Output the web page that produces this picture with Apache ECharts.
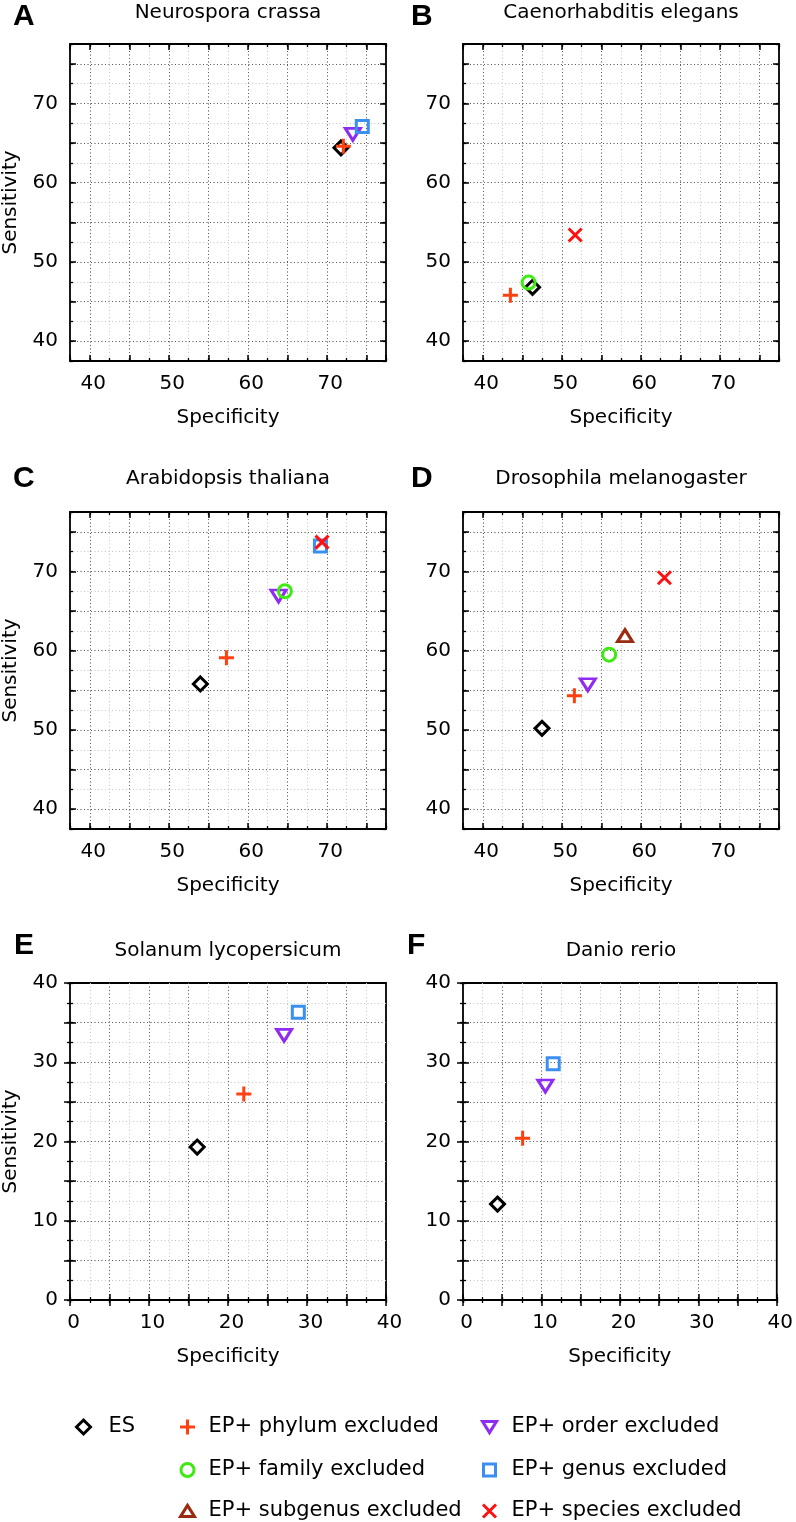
<!DOCTYPE html>
<html><head><meta charset="utf-8">
<script src="https://cdn.jsdelivr.net/npm/echarts@6/dist/echarts.min.js"></script>
<style>html,body{margin:0;padding:0;background:#fff}#main{width:796px;height:1522px}</style>
</head><body><div id="main"></div>
<script>
// ---------------- data ----------------
const panelTitles = ['Neurospora crassa', 'Caenorhabditis elegans', 'Arabidopsis thaliana',
  'Drosophila melanogaster', 'Solanum lycopersicum', 'Danio rerio'];
const panelLetters = ['A', 'B', 'C', 'D', 'E', 'F'];
const seriesNames = ['ES', 'EP+ phylum excluded', 'EP+ order excluded', 'EP+ family excluded',
  'EP+ genus excluded', 'EP+ subgenus excluded', 'EP+ species excluded'];
const axisMin = [37.5, 37.5, 37.5, 37.5, 0, 0];
const axisMax = [77.5, 77.5, 77.5, 77.5, 40, 40];
const xTitle = 'Specificity';
const yTitle = 'Sensitivity';
// [specificity, sensitivity] per series, same order as seriesNames (null = not shown)
const neurospora = [[71.8, 64.4], [72.1, 64.6], [73.3, 66.1], null, [74.5, 67.1], null, null];
const caenorhabditis = [[46.3, 46.8], [43.5, 45.8], null, [45.8, 47.4], null, null, [51.7, 53.4]];
const arabidopsis = [[54.0, 55.8], [57.3, 59.1], [63.9, 66.9], [64.7, 67.5], [69.2, 73.2], null, [69.4, 73.7]];
const drosophila = [[47.5, 50.2], [51.6, 54.3], [53.3, 55.7], [56.0, 59.5], null, [58.0, 61.9], [63.0, 69.2]];
const solanum = [[16.1, 19.3], [22.0, 26.0], [27.1, 33.4], null, [28.9, 36.3], null, null];
const danio = [[4.4, 12.1], [7.6, 20.4], [10.5, 27.0], null, [11.5, 29.8], null, null];
const panelData = [neurospora, caenorhabditis, arabidopsis, drosophila, solanum, danio];

// ---------------- styles / layout ----------------
const FONT = 'DejaVu Sans';
const seriesColors = ['#000000', '#ff4010', '#8f2cf2', '#3fea12', '#3b8ff0', '#9a2a12', '#ff1010'];
const seriesSymbols = [
  'diamond',
  'path://M0,-1 L0,1 M-1,0 L1,0',
  'path://M0,0 L20,0 L10,16 Z',
  'circle',
  'rect',
  'path://M10,0 L20,16 L0,16 Z',
  'path://M-1,-1 L1,1 M-1,1 L1,-1'
];
const seriesSizes = [14, 15, [15, 12], 13, 12, [15, 12], 13];
const legendSizes = [14, 15, 14, 13, 12, 14, 13];
const gridBoxes = [
  {left: 70, top: 44}, {left: 463, top: 44},
  {left: 70, top: 512}, {left: 463, top: 512},
  {left: 70, top: 983}, {left: 463, top: 983}
];
const GW = 316, GH = 317;
const letterPos = [[13, 2], [411, 2], [13, 464], [411, 464], [14, 931], [407, 931]];
const titleTop = [3, 3, 469, 469, 941, 941];
const legendPos = [[82, 1427], [186, 1427], [488, 1427], [186, 1470], [488, 1470], [186, 1511], [488, 1511]];
const legendTextGap = [25, 21, 22, 21, 22, 21, 22];

const grids = [], xAxes = [], yAxes = [], series = [], titles = [], legends = [];

function labFmt(v) { return Math.abs(v % 10) < 1e-9 ? String(v) : ''; }

panelData.forEach((pdata, gi) => {
  const g = gridBoxes[gi];
  grids.push({left: g.left, top: g.top, width: GW, height: GH, show: true,
    borderColor: '#000', borderWidth: 1.8, backgroundColor: '#fff', containLabel: false});
  const mn = axisMin[gi], mx = axisMax[gi];
  const isLeft = gi % 2 === 0;
  ['x', 'y'].forEach(dim => {
    const arr = dim === 'x' ? xAxes : yAxes;
    const posA = dim === 'x' ? 'bottom' : 'left';
    const posB = dim === 'x' ? 'top' : 'right';
    const major = {
      type: 'value', gridIndex: gi, min: mn, max: mx, splitNumber: 8, minInterval: 5, maxInterval: 5,
      position: posA, axisLine: {show: false},
      axisTick: {show: true, inside: true, length: 6, lineStyle: {color: '#000', width: 1.5}},
      axisLabel: {show: true, interval: 0, formatter: labFmt, color: '#000', fontSize: 20, fontFamily: FONT,
        margin: dim === 'x' ? 13 : 12, showMinLabel: true, showMaxLabel: true,
        padding: dim === 'x' ? [0, 0, 0, 7] : [4, 0, 0, 0]},
      splitLine: {show: true, showMinLine: false, showMaxLine: false,
        lineStyle: {color: '#5a5a5a', width: 1, type: [1, 2.5]}}
    };
    if (dim === 'x') {
      major.name = xTitle; major.nameLocation = 'middle'; major.nameGap = 47;
      major.nameTextStyle = {fontSize: 20, fontFamily: FONT, color: '#000'};
    } else if (isLeft) {
      major.name = yTitle; major.nameLocation = 'middle'; major.nameGap = 49; major.nameRotate = 90;
      major.nameTextStyle = {fontSize: 20, fontFamily: FONT, color: '#000'};
    }
    const minor = {
      type: 'value', gridIndex: gi, min: mn, max: mx, interval: 2.5, position: posA,
      axisLine: {show: false}, axisLabel: {show: false},
      axisTick: {show: true, inside: true, length: 3, lineStyle: {color: '#000', width: 1.3}},
      splitLine: {show: true, showMinLine: false, showMaxLine: false,
        lineStyle: {color: '#c4c4c4', width: 1, type: [1, 2.5]}}
    };
    const majorB = {
      type: 'value', gridIndex: gi, min: mn, max: mx, splitNumber: 8, minInterval: 5, maxInterval: 5,
      position: posB, axisLine: {show: false}, axisLabel: {show: false}, splitLine: {show: false},
      axisTick: {show: true, inside: true, length: 6, lineStyle: {color: '#000', width: 1.5}}
    };
    const minorB = {
      type: 'value', gridIndex: gi, min: mn, max: mx, interval: 2.5, position: posB,
      axisLine: {show: false}, axisLabel: {show: false}, splitLine: {show: false},
      axisTick: {show: true, inside: true, length: 3, lineStyle: {color: '#000', width: 1.3}}
    };
    arr.push(minor, major, minorB, majorB);
  });
  const axisIdx = gi * 4 + 1;
  pdata.forEach((pt, si) => {
    if (!pt) return;
    series.push({
      type: 'scatter', name: seriesNames[si], xAxisIndex: axisIdx, yAxisIndex: axisIdx,
      data: [pt], symbol: seriesSymbols[si], symbolSize: seriesSizes[si], z: 5 + si,
      itemStyle: {color: 'rgba(0,0,0,0)', borderColor: seriesColors[si], borderWidth: 3, opacity: 1},
      emphasis: {disabled: true}, silent: true, animation: false
    });
  });
  titles.push({text: panelTitles[gi], left: g.left + GW / 2, top: titleTop[gi], textAlign: 'center', padding: 0,
    textStyle: {fontSize: 20, fontWeight: 'normal', fontFamily: FONT, color: '#000'}});
  titles.push({text: panelLetters[gi], left: letterPos[gi][0], top: letterPos[gi][1], padding: 0,
    textStyle: {fontSize: 30, fontWeight: 'bold', fontFamily: 'Liberation Sans', color: '#000'}});
});

seriesNames.forEach((nm, si) => {
  const [cx, cy] = legendPos[si];
  const sz = legendSizes[si];
  legends.push({
    data: [nm], left: cx - sz / 2, top: cy - 10.5, padding: 0, itemWidth: sz, itemHeight: sz,
    selectedMode: false,
    itemStyle: {borderWidth: 3, opacity: 1},
    textStyle: {fontSize: 21, fontFamily: FONT, color: '#000', lineHeight: 21,
      padding: [0, 0, 0, Math.max(0, legendTextGap[si] - sz / 2 - 5)]}
  });
});

const chart = echarts.init(document.getElementById('main'), null, {renderer: 'canvas'});
chart.setOption({
  animation: false,
  backgroundColor: '#fff',
  textStyle: {fontFamily: FONT},
  title: titles, grid: grids, xAxis: xAxes, yAxis: yAxes, legend: legends, series: series
});
</script></body></html>
